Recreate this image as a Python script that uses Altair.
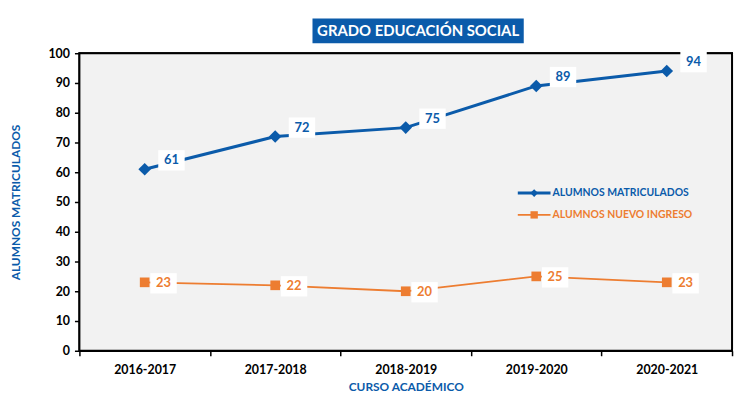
import altair as alt
import pandas as pd

years = ["2016-2017", "2017-2018", "2018-2019", "2019-2020", "2020-2021"]
matriculados = [61, 72, 75, 89, 94]
nuevo_ingreso = [23, 22, 20, 25, 23]
series_names = ["ALUMNOS MATRICULADOS", "ALUMNOS NUEVO INGRESO"]
title_text = "GRADO EDUCACIÓN SOCIAL"
x_title = "CURSO ACADÉMICO"
y_title = "ALUMNOS MATRICULADOS"
y_ticks = [0, 10, 20, 30, 40, 50, 60, 70, 80, 90, 100]

BLUE = "#0B5BAA"
ORANGE = "#ED7D31"
FONT = "Lato"
W, H = 658, 300

mat = pd.DataFrame({"curso": years, "valor": matriculados, "serie": series_names[0]})
nue = pd.DataFrame({"curso": years, "valor": nuevo_ingreso, "serie": series_names[1]})

x = alt.X("curso:N", sort=years,
          scale=alt.Scale(type="band", paddingInner=0, paddingOuter=0),
          axis=alt.Axis(title=x_title, labelAngle=0, tickBand="extent",
                        tickSize=5, tickColor="black", tickWidth=1.5,
                        domainColor="black", domainWidth=1.5,
                        labelFont=FONT, labelFontSize=12.5, labelFontWeight="bold",
                        labelColor="black", labelPadding=8,
                        titleFont=FONT, titleFontSize=12, titleFontWeight="bold",
                        titleColor=BLUE, titlePadding=6))
y = alt.Y("valor:Q", scale=alt.Scale(domain=[0, 100], nice=False),
          axis=alt.Axis(values=y_ticks, title=y_title, grid=True,
                        gridColor="black", gridDash=[3, 2], gridWidth=1,
                        tickSize=5, tickColor="black", tickWidth=1.5,
                        domainColor="black", domainWidth=1.5,
                        labelFont=FONT, labelFontSize=12.5, labelFontWeight="bold",
                        labelColor="black", labelPadding=5,
                        titleFont=FONT, titleFontSize=12, titleFontWeight="bold",
                        titleColor=BLUE, titlePadding=26))

bgdf = pd.DataFrame({"t": [""]})
background = alt.Chart(bgdf).mark_rect(color="#F2F2F2", stroke="black", strokeWidth=2).encode(
    x=alt.value(0), x2=alt.value(W), y=alt.value(0), y2=alt.value(H))

def series_layers(df, color, shape, shape_size, lw, dx, dy):
    base = alt.Chart(df).encode(x=x, y=y)
    line = base.mark_line(color=color, strokeWidth=lw)
    pts = base.mark_point(shape=shape, size=shape_size, filled=True, color=color, opacity=1)
    box = base.mark_point(shape="M-1.3,-1H1.3V1H-1.3Z", size=420, filled=True,
                          color="white", opacity=1, xOffset=dx, yOffset=dy)
    txt = base.mark_text(font=FONT, fontSize=13, fontWeight="bold", color=color,
                         dx=dx, dy=dy, baseline="middle", align="center").encode(text="valor:Q")
    return [line, pts, box, txt]

layers = [background]
layers += series_layers(mat, BLUE, "diamond", 160, 3, 27, -9)
layers += series_layers(nue, ORANGE, "square", 95, 1.8, 19, 1)

# title box
tdf = pd.DataFrame({"t": [title_text]})
title_box = alt.Chart(tdf).mark_rect(color="#0B5BAA").encode(
    x=alt.value(235), x2=alt.value(448), y=alt.value(-35), y2=alt.value(-10))
title_txt = alt.Chart(tdf).mark_text(font=FONT, fontSize=15, fontWeight="bold", color="white",
                                     baseline="middle", align="center").encode(
    x=alt.value(341.5), y=alt.value(-22), text="t:N")
layers += [title_box, title_txt]

# legend
leg = []
for i, (name, color, shape, sz, lw) in enumerate([(series_names[0], BLUE, "diamond", 60, 3),
                                                   (series_names[1], ORANGE, "square", 55, 1.8)]):
    ldf = pd.DataFrame({"t": [name]})
    yy = 141 + 22 * i
    leg.append(alt.Chart(ldf).mark_rule(color=color, strokeWidth=lw).encode(
        x=alt.value(442), x2=alt.value(475), y=alt.value(yy)))
    leg.append(alt.Chart(ldf).mark_point(shape=shape, size=sz, filled=True, color=color, opacity=1).encode(
        x=alt.value(458.5), y=alt.value(yy)))
    leg.append(alt.Chart(ldf).mark_text(font=FONT, fontSize=10.5, fontWeight="bold", color=color,
                                        align="left", baseline="middle").encode(
        x=alt.value(477), y=alt.value(yy), text="t:N"))
layers += leg

chart = alt.layer(*layers).properties(
    width=W, height=H,
    autosize=alt.AutoSizeParams(type="none"),
    padding={"left": 72, "top": 44, "right": 4, "bottom": 44},
    background="white",
).configure_view(stroke="black", strokeWidth=2)

chart.save("out.html", embed_options={"renderer": "svg", "actions": False})
